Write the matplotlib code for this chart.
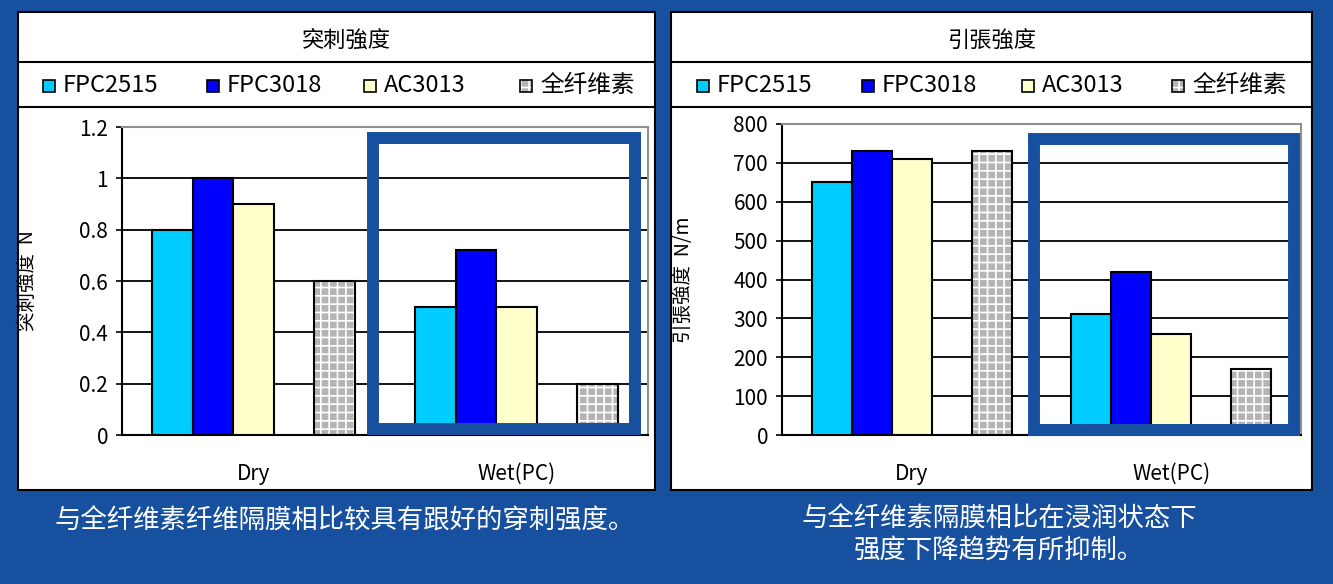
import numpy as np
import matplotlib.pyplot as plt
from matplotlib.patches import Rectangle
from matplotlib.lines import Line2D

plt.rcParams['font.family'] = ['Noto Sans CJK SC', 'DejaVu Sans']
plt.rcParams['hatch.linewidth'] = 1.2

# data
groups = ['Dry', 'Wet(PC)']
series = ['FPC2515', 'FPC3018', 'AC3013', '全纤维素']
colors = ['#00CCFF', '#0000FF', '#FFFFCC', '#B4B4B4']

puncture_fpc2515 = [0.8, 0.5]
puncture_fpc3018 = [1.0, 0.72]
puncture_ac3013 = [0.9, 0.5]
puncture_cellulose = [0.6, 0.2]
puncture_ticks = [0, 0.2, 0.4, 0.6, 0.8, 1.0, 1.2]
puncture_ticklabels = ['0', '0.2', '0.4', '0.6', '0.8', '1', '1.2']

tensile_fpc2515 = [650, 310]
tensile_fpc3018 = [730, 420]
tensile_ac3013 = [710, 260]
tensile_cellulose = [730, 170]
tensile_ticks = [0, 100, 200, 300, 400, 500, 600, 700, 800]

W, H = 1333, 584
BG = '#1850A0'

fig = plt.figure(figsize=(W / 100, H / 100), dpi=100, facecolor=BG)


def fx(x):
    return x / W


def fy(y):
    return 1 - y / H


def box(x0, y0, x1, y1):
    return [x0 / W, 1 - y1 / H, (x1 - x0) / W, (y1 - y0) / H]


def panel(x0, x1, title, tx):
    fig.add_artist(Rectangle((fx(x0), fy(490)), (x1 - x0) / W, 478 / H,
                             transform=fig.transFigure, facecolor='white',
                             edgecolor='black', lw=1.5, zorder=-2))
    for yy in (62, 107):
        fig.add_artist(Line2D([fx(x0), fx(x1)], [fy(yy), fy(yy)],
                              transform=fig.transFigure, color='black',
                              lw=1.5, zorder=-1))
    fig.text(fx(tx), fy(41), title, ha='center', va='center', fontsize=16)


def legend_row(mark_x):
    for i, name in enumerate(series):
        mx = mark_x[i]
        if i == 3:
            fig.add_artist(Rectangle((fx(mx), fy(92)), 12 / W, 12 / H,
                                     transform=fig.transFigure,
                                     facecolor=colors[i], hatch='++',
                                     edgecolor='white', lw=0))
            fig.add_artist(Rectangle((fx(mx), fy(92)), 12 / W, 12 / H,
                                     transform=fig.transFigure, fill=False,
                                     edgecolor='black', lw=1.2))
        else:
            fig.add_artist(Rectangle((fx(mx), fy(92)), 12 / W, 12 / H,
                                     transform=fig.transFigure,
                                     facecolor=colors[i], edgecolor='black',
                                     lw=1.2))
        fig.text(fx(mx + 20), fy(86), name, ha='left', va='center',
                 fontsize=17)


def draw_bars(ax, vals, ticks, ticklabels, ylabel, ylabel_x):
    w = 0.154
    x = np.arange(len(groups))
    offs = [-2, -1, 0, 2]
    for i in range(3):
        ax.bar(x + offs[i] * w, vals[i], w, color=colors[i],
               edgecolor='black', lw=1.5, zorder=3)
    ax.bar(x + offs[3] * w, vals[3], w, color=colors[3], hatch='++',
           edgecolor='white', lw=0, zorder=3)
    ax.bar(x + offs[3] * w, vals[3], w, fill=False,
           edgecolor='black', lw=1.5, zorder=4)
    ax.set_xlim(-0.5, 1.5)
    ax.set_ylim(ticks[0], ticks[-1])
    ax.set_yticks(ticks, ticklabels)
    ax.set_xticks(x, groups)
    ax.tick_params(axis='x', length=0, pad=20, labelsize=15)
    ax.tick_params(axis='y', length=4, width=1.2, pad=6, labelsize=15)
    ax.yaxis.grid(True, color='black', lw=1.3)
    ax.set_axisbelow(True)
    for s in ('top', 'right'):
        ax.spines[s].set_color('#909090')
        ax.spines[s].set_linewidth(1.5)
    for s in ('left', 'bottom'):
        ax.spines[s].set_color('black')
        ax.spines[s].set_linewidth(1.5)
    ax.set_ylabel(ylabel, fontsize=14)
    ax.yaxis.set_label_coords(ylabel_x, 0.5)


def highlight(x0, y0, x1, y1):
    fig.add_artist(Rectangle((fx(x0), fy(y1)), (x1 - x0) / W, (y1 - y0) / H,
                             transform=fig.transFigure, fill=False,
                             edgecolor=BG, lw=8.6, joinstyle='miter',
                             zorder=10))


# left panel: puncture strength
panel(18, 655, '突刺強度', 346)
legend_row([43, 207, 364, 520])
ax1 = fig.add_axes(box(122, 127, 648, 435))
draw_bars(ax1, [puncture_fpc2515, puncture_fpc3018, puncture_ac3013,
                puncture_cellulose],
          puncture_ticks, puncture_ticklabels, '突刺強度  N', -0.16)
highlight(373, 138, 635, 429)

# right panel: tensile strength
panel(671, 1312, '引張強度', 992)
legend_row([697, 862, 1022, 1172])
ax2 = fig.add_axes(box(782, 124, 1301, 435))
draw_bars(ax2, [tensile_fpc2515, tensile_fpc3018, tensile_ac3013,
                tensile_cellulose],
          tensile_ticks, [str(t) for t in tensile_ticks], '引張強度  N/m', -0.17)
highlight(1034, 139, 1294, 430)

# captions
fig.text(fx(345), fy(521), '与全纤维素纤维隔膜相比较具有跟好的穿刺强度。',
         ha='center', va='center', color='white', fontsize=19)
fig.text(fx(999), fy(519), '与全纤维素隔膜相比在浸润状态下',
         ha='center', va='center', color='white', fontsize=19)
fig.text(fx(999), fy(550), '强度下降趋势有所抑制。',
         ha='center', va='center', color='white', fontsize=19)

fig.savefig('out.png', dpi=100, facecolor=BG)
